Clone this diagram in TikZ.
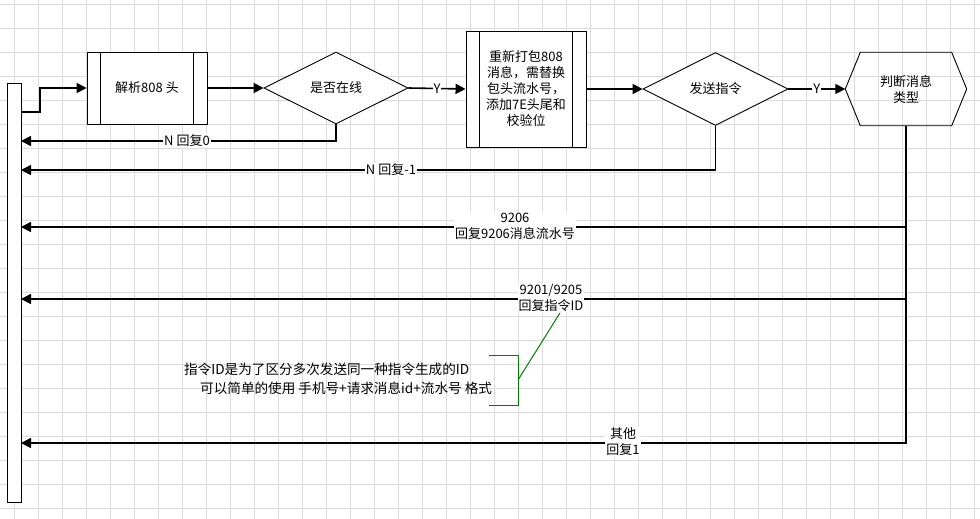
\documentclass[tikz,border=0pt]{standalone}
\usepackage{fontspec}
\setmainfont{Noto Sans CJK SC}
\usetikzlibrary{arrows.meta,calc,positioning,shapes.geometric}

\begin{document}
\begin{tikzpicture}[x=1pt,y=-1pt,
  every node/.style={font=\fontsize{13}{16}\selectfont},
  conn/.style={line width=1.6pt,-{Triangle[length=10pt,width=10pt]}},
  wire/.style={line width=1.6pt},
  box/.style={draw,line width=0.9pt,fill=white,inner sep=0pt},
  subproc/.style={box,
    path picture={
      \draw[line width=0.9pt] ([xshift=13.5pt]path picture bounding box.north west)--([xshift=13.5pt]path picture bounding box.south west);
      \draw[line width=0.9pt] ([xshift=-13.5pt]path picture bounding box.north east)--([xshift=-13.5pt]path picture bounding box.south east);}},
  decide/.style={box,diamond,aspect=2},
  lbl/.style={fill=white,inner sep=1pt,align=center},
  gridline/.style={draw=black!14,line width=0.8pt},
  note/.style={draw=green!50!black,line width=1pt}]
\useasboundingbox (0,0) rectangle (980,519);
\fill[white] (0,0) rectangle (980,519);
% grid
\foreach \k in {0,...,40}{\draw[gridline] ({14.3+24*\k},0)--({14.3+24*\k},519);}
\foreach \k in {0,...,21}{\draw[gridline] (0,{4.3+24*\k})--(980,{4.3+24*\k});}
% shapes
\node (bus) [box,minimum width=14pt,minimum height=419pt] at (14,292.5) {};
\node (parse) [subproc,minimum width=120pt,minimum height=72pt] at (147,88) {解析808 头};
\node (online) [decide,minimum width=144pt,minimum height=72pt] at (336,88) {是否在线};
\node (repack) [subproc,minimum width=120pt,minimum height=116pt,align=center] at (526,89)
  {重新打包808\\消息，需替换\\包头流水号，\\添加7E头尾和\\校验位};
\node (send) [decide,minimum width=145pt,minimum height=73pt] at (715.5,89) {发送指令};
\node (judge) [minimum width=121pt,minimum height=73pt,align=center] at (906,89) {判断消息\\类型};
\draw[line width=0.9pt] (judge.west)--([xshift=15pt]judge.north west)--([xshift=-15pt]judge.north east)
  --(judge.east)--([xshift=-15pt]judge.south east)--([xshift=15pt]judge.south west)--cycle;
% forward flow
\coordinate (s0) at (40,112);
\draw[conn] (bus.east |- s0)--(s0)|-(parse.west);
\draw[conn] (parse.east)--(online.west);
\draw[conn] (online.east)-- node[lbl]{Y} (repack.west);
\draw[conn] (repack.east)--(send.west);
\draw[conn] (send.east)-- node[lbl]{Y} (judge.west);
% replies
\coordinate (r0) at (21,141);
\coordinate (r1) at (21,170);
\coordinate (r2) at (21,227);
\coordinate (r3) at (21,299);
\coordinate (r4) at (21,443);
\draw[conn] (online.south)|-(r0);
\draw[conn] (send.south)|-(r1);
\draw[conn] (judge.south)|-(r2);
\draw[conn] (judge.south)|-(r3);
\draw[conn] (judge.south)|-(r4);
\node (lblN0) [lbl] at (187,141) {N 回复0};
\node (lblN1) [lbl] at (391,170) {N 回复-1};
\node (lbl9206) [lbl] at (515,226) {9206\\回复9206消息流水号};
\node (lblAck) [lbl] at (551,298) {9201/9205\\回复指令ID};
\node (lblOther) [lbl] at (623,442) {其他\\回复1};
% note
\node (memo) [inner sep=0pt,align=left,anchor=west,font=\fontsize{13.6}{19}\selectfont] at (184,379)
  {指令ID是为了区分多次发送同一种指令生成的ID\\\hspace*{16pt}可以简单的使用 手机号+请求消息id+流水号 格式};
\draw[note] (489,355)--(518,355)--(518,405)--(489,405);
\coordinate (brk) at (518,380);
\draw[note] (brk)--([xshift=9pt]lblAck.south);
\end{tikzpicture}
\end{document}
